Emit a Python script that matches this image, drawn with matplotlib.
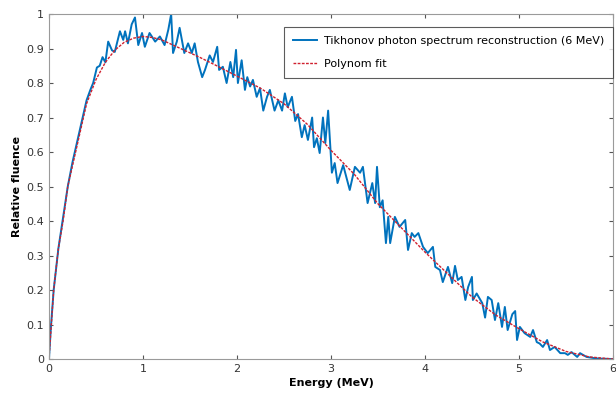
import matplotlib.pyplot as plt

fz = 8

# Tikhonov reconstruction (noisy spectrum)
energy = [0.0, 0.02, 0.05, 0.1, 0.15, 0.2, 0.25, 0.3, 0.35, 0.4, 0.44, 0.47, 0.51, 0.54,
          0.57, 0.60, 0.63, 0.67, 0.70, 0.755, 0.79, 0.81, 0.84, 0.88, 0.915, 0.95, 0.99,
          1.02, 1.07, 1.13, 1.18, 1.23, 1.27, 1.30, 1.32, 1.36, 1.39, 1.44, 1.48, 1.52,
          1.55, 1.585, 1.63, 1.66, 1.71, 1.745, 1.79, 1.81, 1.85, 1.89, 1.93, 1.96, 1.99,
          2.01, 2.05, 2.085, 2.11, 2.14, 2.17, 2.21, 2.245, 2.28, 2.32, 2.35, 2.40, 2.44,
          2.48, 2.51, 2.54, 2.585, 2.62, 2.65, 2.69, 2.72, 2.755, 2.80, 2.82, 2.85, 2.88,
          2.915, 2.94, 2.97, 3.01, 3.04, 3.07, 3.13, 3.20, 3.255, 3.31, 3.34, 3.39, 3.44,
          3.47, 3.49, 3.52, 3.55, 3.585, 3.61, 3.63, 3.68, 3.73, 3.79, 3.82, 3.86, 3.89,
          3.93, 3.98, 4.03, 4.085, 4.11, 4.16, 4.19, 4.245, 4.29, 4.32, 4.35, 4.39, 4.43,
          4.46, 4.50, 4.51, 4.55, 4.61, 4.64, 4.67, 4.71, 4.745, 4.78, 4.82, 4.85, 4.88,
          4.93, 4.96, 4.98, 5.01, 5.06, 5.12, 5.15, 5.19, 5.22, 5.255, 5.30, 5.33, 5.38,
          5.44, 5.49, 5.52, 5.56, 5.62, 5.65, 5.72, 5.79, 5.86, 6.0]
fluence = [0.0, 0.09, 0.2, 0.32, 0.41, 0.5, 0.57, 0.63, 0.69, 0.75, 0.78, 0.80, 0.845, 0.85,
           0.875, 0.86, 0.92, 0.895, 0.89, 0.95, 0.925, 0.95, 0.915, 0.97, 0.99, 0.91, 0.945,
           0.905, 0.945, 0.92, 0.935, 0.91, 0.955, 1.0, 0.887, 0.92, 0.96, 0.887, 0.915, 0.887,
           0.915, 0.861, 0.817, 0.838, 0.88, 0.861, 0.905, 0.838, 0.847, 0.80, 0.861, 0.817,
           0.896, 0.80, 0.866, 0.78, 0.817, 0.79, 0.809, 0.76, 0.785, 0.72, 0.76, 0.78, 0.72,
           0.75, 0.72, 0.77, 0.73, 0.76, 0.69, 0.71, 0.643, 0.678, 0.635, 0.70, 0.614, 0.64,
           0.597, 0.70, 0.626, 0.72, 0.54, 0.568, 0.51, 0.562, 0.49, 0.557, 0.54, 0.557, 0.452,
           0.51, 0.452, 0.557, 0.44, 0.46, 0.336, 0.412, 0.336, 0.412, 0.383, 0.403, 0.316,
           0.365, 0.354, 0.365, 0.325, 0.307, 0.325, 0.267, 0.258, 0.223, 0.267, 0.22, 0.27,
           0.229, 0.238, 0.171, 0.209, 0.238, 0.171, 0.19, 0.162, 0.12, 0.18, 0.171, 0.113,
           0.162, 0.093, 0.151, 0.084, 0.13, 0.139, 0.055, 0.093, 0.075, 0.064, 0.084, 0.049,
           0.045, 0.035, 0.055, 0.026, 0.035, 0.017, 0.017, 0.012, 0.02, 0.006, 0.017, 0.006,
           0.003, 0.001, 0.0]

# polynomial fit
fit_energy = [0.0, 0.05, 0.1, 0.15, 0.2, 0.3, 0.4, 0.5, 0.6, 0.7, 0.8, 0.9, 1.0, 1.1, 1.2,
              1.4, 1.6, 1.8, 2.0, 2.25, 2.5, 2.75, 3.0, 3.25, 3.5, 3.75, 4.0, 4.25, 4.5,
              4.75, 5.0, 5.25, 5.5, 5.75, 6.0]
fit_fluence = [0.0, 0.2, 0.32, 0.4, 0.5, 0.62, 0.74, 0.81, 0.86, 0.895, 0.918, 0.93, 0.935,
               0.932, 0.925, 0.90, 0.875, 0.848, 0.82, 0.785, 0.74, 0.68, 0.605, 0.535,
               0.45, 0.38, 0.31, 0.245, 0.18, 0.128, 0.088, 0.05, 0.022, 0.006, 0.0]

fig = plt.figure(figsize=(6.16, 3.96), dpi=100)
ax = fig.add_axes([0.0795, 0.0934, 0.9155, 0.8712])

ax.plot(energy, fluence, '-', color='#0072BD', linewidth=1.4,
        label='Tikhonov photon spectrum reconstruction (6 MeV)')
ax.plot(fit_energy, fit_fluence, '--', color='#d0202e', linewidth=1.0,
        dashes=(2, 1), label='Polynom fit')

ax.set_xlim(0, 6)
ax.set_ylim(0, 1)
ax.set_xticks([0, 1, 2, 3, 4, 5, 6])
ax.set_yticks([0, 0.1, 0.2, 0.3, 0.4, 0.5, 0.6, 0.7, 0.8, 0.9, 1])
ax.set_yticklabels(['0', '0.1', '0.2', '0.3', '0.4', '0.5', '0.6', '0.7', '0.8', '0.9', '1'])
ax.tick_params(direction='in', top=True, right=True, labelsize=fz, colors='#555555',
               labelcolor='#333333', length=3)
for s in ax.spines.values():
    s.set_color('#9a9a9a')

ax.set_xlabel('Energy (MeV)', fontsize=fz, fontweight='bold', labelpad=3)
ax.set_ylabel('Relative fluence', fontsize=fz, fontweight='bold', labelpad=3)

leg = ax.legend(loc='upper right', bbox_to_anchor=(1.0, 0.962), borderaxespad=0,
                fontsize=fz, frameon=True, fancybox=False, edgecolor='#333333',
                handlelength=2.2, handletextpad=0.6, borderpad=0.8, labelspacing=1.2)
leg.get_frame().set_linewidth(0.8)

plt.savefig('out.png', dpi=100)
plt.close()
